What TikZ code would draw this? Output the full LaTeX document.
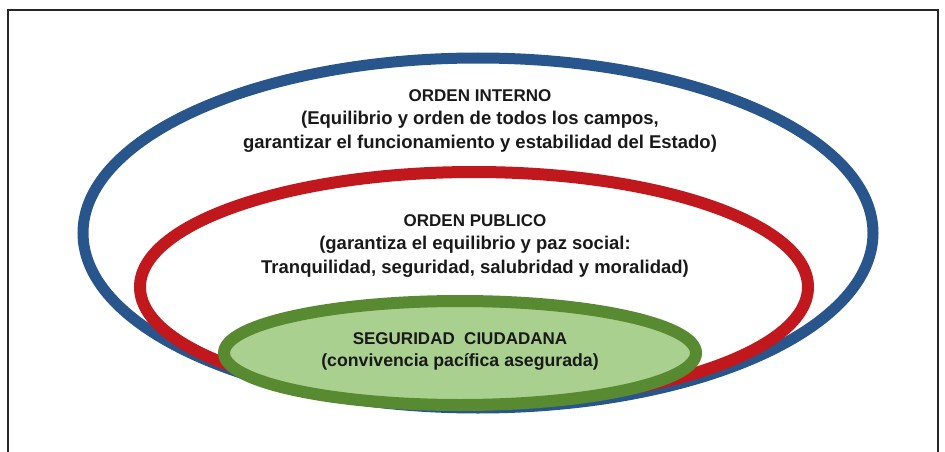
\documentclass[tikz,border=0pt]{standalone}
\usepackage{fontspec}
\setmainfont{Liberation Sans}
\usetikzlibrary{shapes.geometric}
\definecolor{ringblue}{RGB}{40,86,140}
\definecolor{ringred}{RGB}{192,24,28}
\definecolor{ringgreen}{RGB}{88,138,50}
\definecolor{fillgreen}{RGB}{169,208,142}
\newcommand{\ringtitle}[1]{{\fontsize{17}{23.5}\selectfont #1}}
\tikzset{
	ring/.style={ellipse, draw, inner sep=0pt, line width=11pt},
	ringtext/.style={align=center, text=black!90, font=\fontsize{18.5}{23.5}\selectfont\bfseries}
}
\begin{document}
\begin{tikzpicture}[x=1pt, y=-1pt]
		\useasboundingbox (0,0) rectangle (945,452);
		% frame
		\draw [line width=2pt, black!85] (8,470) -- (8,10) -- (938,10) -- (938,470);
		% the three rings
		\node[ring, draw=ringblue, minimum width=790pt, minimum height=350pt] (interno) at (478,233) {};
		\node[ring, draw=ringred, line width=12pt, minimum width=668pt, minimum height=230pt] (publico) at (474,287) {};
		\node[ring, draw=ringgreen, fill=fillgreen, line width=12pt, minimum width=472pt, minimum height=104pt] (ciudadana) at (460,353) {};
		% texts
		\node[ringtext] (txtinterno) at (480,121) {\ringtitle{ORDEN INTERNO}\\(Equilibrio y orden de todos los campos,\\garantizar el funcionamiento y estabilidad del Estado)};
		\node[ringtext] (txtpublico) at (475,246) {\ringtitle{ORDEN PUBLICO}\\(garantiza el equilibrio y paz social:\\Tranquilidad, seguridad, salubridad y moralidad)};
		\node[ringtext, font=\fontsize{17.7}{22}\selectfont\bfseries] (txtciudadana) at (460,351) {\ringtitle{SEGURIDAD\ \ CIUDADANA}\\(convivencia pacífica asegurada)};
	\end{tikzpicture}
\end{document}
